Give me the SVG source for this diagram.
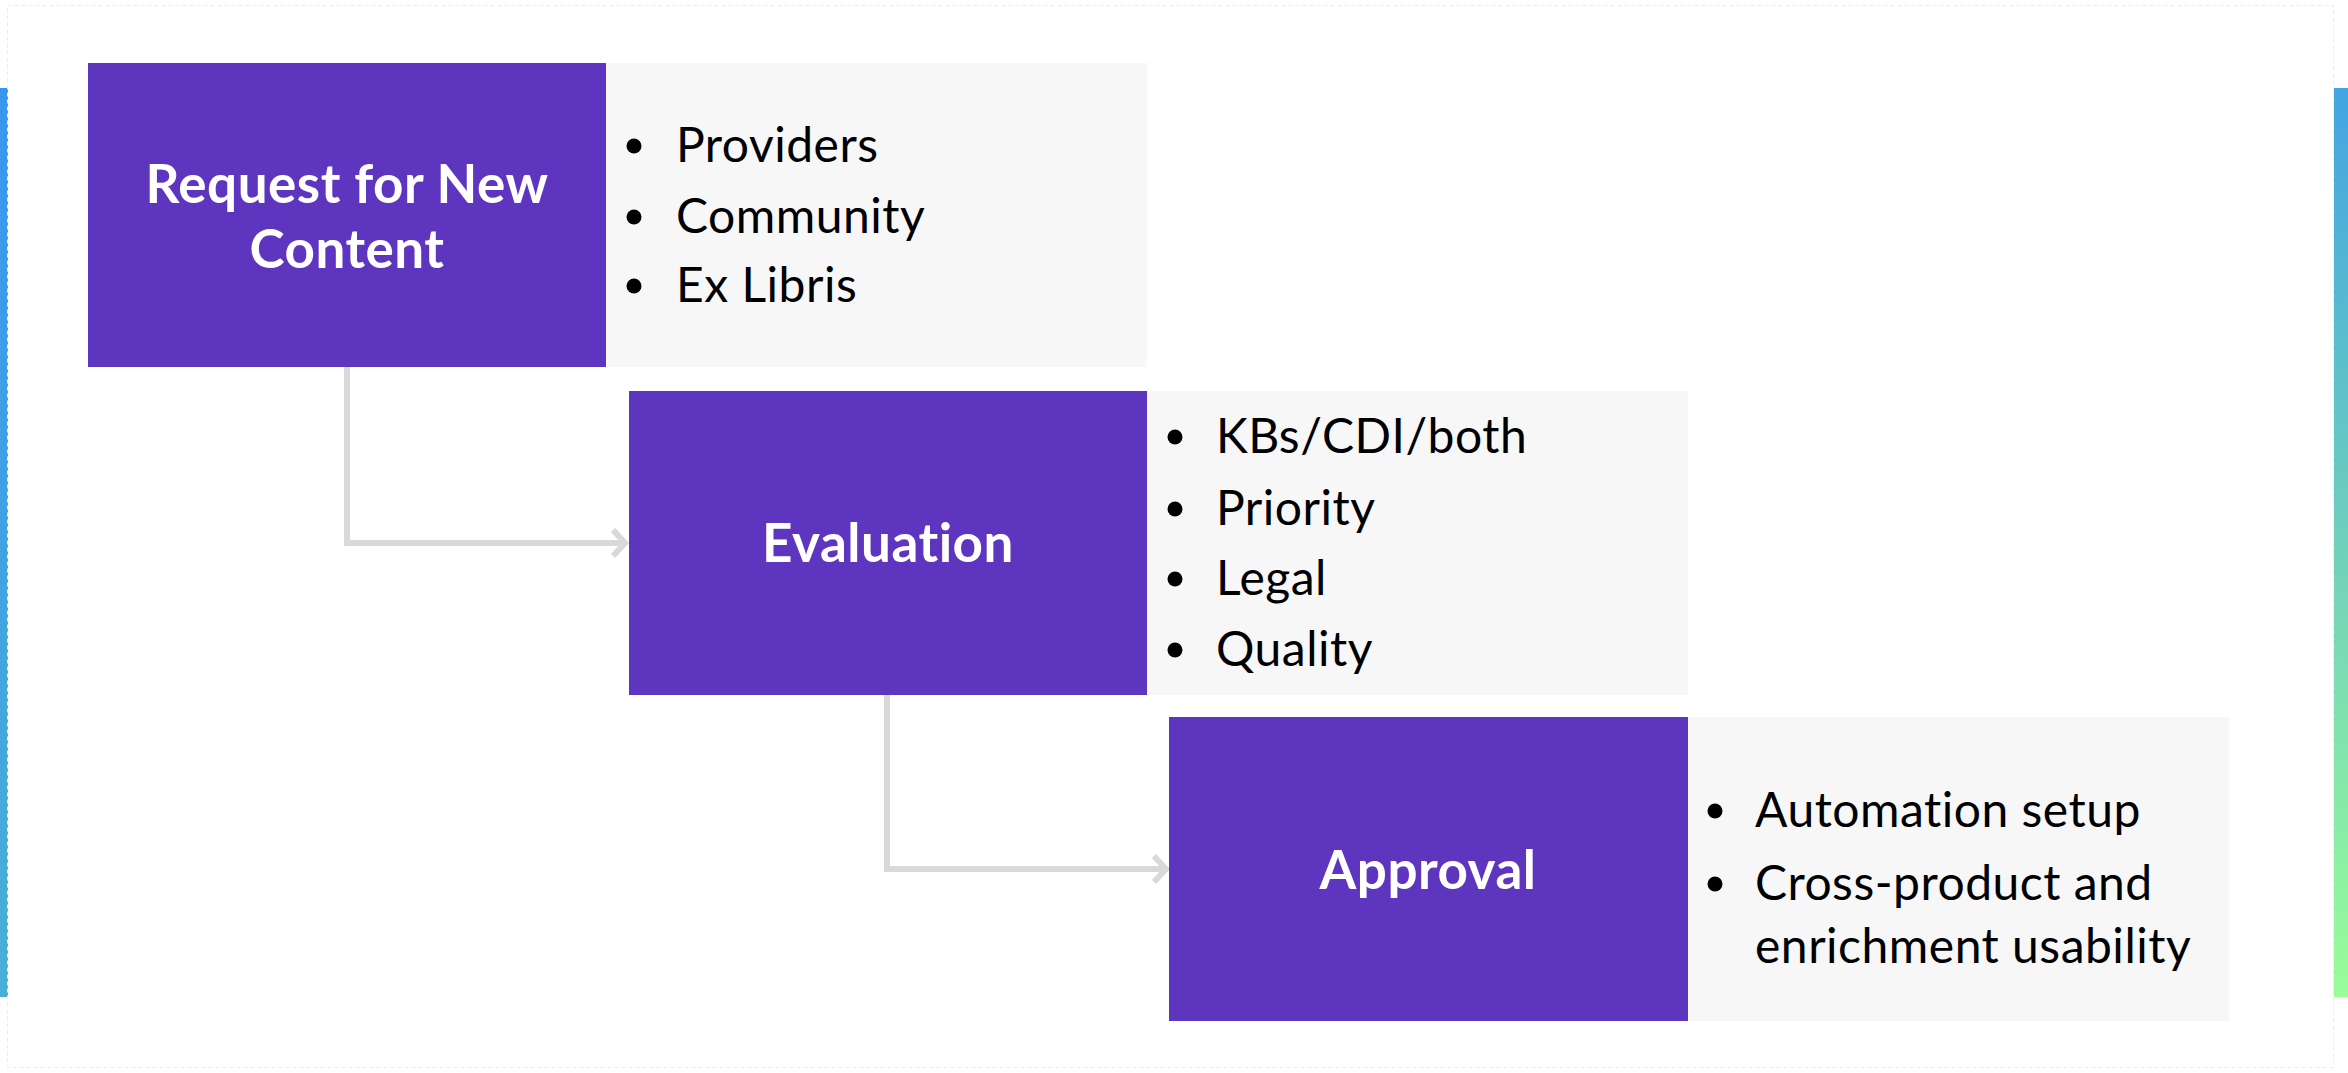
<svg xmlns="http://www.w3.org/2000/svg" width="2348" height="1073" viewBox="0 0 2348 1073">
  <defs>
    <linearGradient id="gl" x1="0" y1="0" x2="0" y2="1">
      <stop offset="0" stop-color="#3896ee"/>
      <stop offset="1" stop-color="#4aaed6"/>
    </linearGradient>
    <linearGradient id="gr" x1="0" y1="0" x2="0" y2="1">
      <stop offset="0" stop-color="#42a4e2"/>
      <stop offset="0.5" stop-color="#6fd0bc"/>
      <stop offset="1" stop-color="#99fd99"/>
    </linearGradient>
    <marker id="chev" markerWidth="12" markerHeight="14" refX="8" refY="7" orient="auto" markerUnits="userSpaceOnUse" viewBox="0 0 12 14" overflow="visible">
      <path d="M-12,-13 L0,0 L-12,13" transform="translate(9,7)" fill="none" stroke="#d9d9d9" stroke-width="6"/>
    </marker>
    <style>
      .step { fill: #5e35be; }
      .panel { fill: #f7f7f7; }
      .title { font-family: Lato, "Noto Sans", "Liberation Sans", sans-serif; font-weight: 700; font-size: 53px; letter-spacing: 0.5px; fill: #ffffff; text-anchor: middle; }
      .item { font-family: Lato, "Noto Sans", "Liberation Sans", sans-serif; font-size: 48px; letter-spacing: 0.5px; fill: #000000; }
      .bullet { fill: #000000; }
      .conn { fill: none; stroke: #d9d9d9; stroke-width: 6; }
    </style>
  </defs>

  <rect x="0" y="0" width="2348" height="1073" fill="#ffffff"/>
  <rect x="0" y="88" width="8" height="909" fill="url(#gl)"/>
  <rect x="2334" y="88" width="14" height="909" fill="url(#gr)"/>
  <rect x="7.5" y="5.5" width="2326" height="1062" fill="none" stroke="#ececec" stroke-width="1" stroke-dasharray="4 3"/>

  <g id="connectors">
    <path class="conn" d="M347,367 V543 H624" marker-end="url(#chev)"/>
    <path class="conn" d="M887,695 V869 H1165" marker-end="url(#chev)"/>
  </g>

  <g id="node-request">
    <rect class="step" x="88" y="63" width="518" height="304"/>
    <rect class="panel" x="606" y="63" width="541" height="304"/>
    <text class="title" x="347" y="203">Request for New</text>
    <text class="title" x="347" y="268">Content</text>
    <circle class="bullet" cx="634" cy="146" r="7.5"/>
    <circle class="bullet" cx="634" cy="217" r="7.5"/>
    <circle class="bullet" cx="634" cy="286" r="7.5"/>
    <text class="item" x="676" y="162">Providers</text>
    <text class="item" x="676" y="233">Community</text>
    <text class="item" x="676" y="302">Ex Libris</text>
  </g>

  <g id="node-evaluation">
    <rect class="step" x="629" y="391" width="518" height="304"/>
    <rect class="panel" x="1147" y="391" width="541" height="304"/>
    <text class="title" x="888" y="562">Evaluation</text>
    <circle class="bullet" cx="1175" cy="437" r="7.5"/>
    <circle class="bullet" cx="1175" cy="509" r="7.5"/>
    <circle class="bullet" cx="1175" cy="579" r="7.5"/>
    <circle class="bullet" cx="1175" cy="650" r="7.5"/>
    <text class="item" x="1216" y="453">KBs/CDI/both</text>
    <text class="item" x="1216" y="525">Priority</text>
    <text class="item" x="1216" y="595">Legal</text>
    <text class="item" x="1216" y="666">Quality</text>
  </g>

  <g id="node-approval">
    <rect class="step" x="1169" y="717" width="519" height="304"/>
    <rect class="panel" x="1688" y="717" width="541" height="304"/>
    <text class="title" x="1428" y="889">Approval</text>
    <circle class="bullet" cx="1715" cy="811" r="7.5"/>
    <circle class="bullet" cx="1715" cy="884" r="7.5"/>
    <text class="item" x="1755" y="827">Automation setup</text>
    <text class="item" x="1755" y="900">Cross-product and</text>
    <text class="item" x="1755" y="963">enrichment usability</text>
  </g>
</svg>
